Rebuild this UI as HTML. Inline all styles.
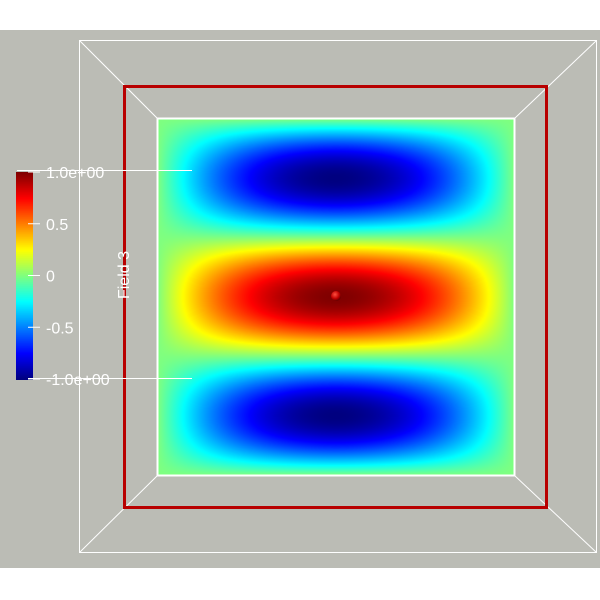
<!DOCTYPE html>
<html><head><meta charset="utf-8"><style>
html,body{margin:0;padding:0;background:#fff;}
#root{position:relative;width:600px;height:600px;overflow:hidden;background:#fff;font-family:"Liberation Sans",sans-serif;}
#bg{position:absolute;left:0;top:30px;width:600px;height:538px;background:#bbbcb5;}
svg{position:absolute;left:0;top:0;}
</style></head><body>
<div id="root">
<div id="bg"></div>
<canvas id="field" width="356" height="356" style="position:absolute;left:158px;top:119px;width:356px;height:356px"></canvas>
<canvas id="cbar" width="17" height="208" style="position:absolute;left:16px;top:172px"></canvas>
<svg width="600" height="600" id="ov">
 <g stroke="#fff" stroke-width="1" fill="none">
  <rect x="79.5" y="40.5" width="517" height="512"/>
  <rect x="157.5" y="118.5" width="357" height="357" stroke-width="2"/>
  <line x1="79.5" y1="40.5" x2="157.5" y2="118.5"/>
  <line x1="596.5" y1="40.5" x2="514.5" y2="118.5"/>
  <line x1="79.5" y1="552.5" x2="157.5" y2="475.5"/>
  <line x1="596.5" y1="552.5" x2="514.5" y2="475.5"/>
 </g>
 <rect x="124.5" y="86.5" width="422" height="421" fill="none" stroke="#b80000" stroke-width="3"/>
 <g stroke="#fff" stroke-width="1">
  <line x1="17" y1="170.5" x2="192" y2="170.5"/>
  <line x1="28" y1="378.5" x2="192" y2="378.5"/>
 </g>
 <g id="ticks"></g>
 <text transform="translate(129,275) rotate(-90)" text-anchor="middle" fill="#fff" font-size="16" font-family="Liberation Sans, sans-serif">Field 3</text>
 <defs><radialGradient id="sg" cx="0.4" cy="0.35" r="0.7"><stop offset="0" stop-color="#ff5040"/><stop offset="0.6" stop-color="#c00000"/><stop offset="1" stop-color="#500000"/></radialGradient></defs>
 <circle cx="336" cy="296" r="5" fill="url(#sg)"/>
</svg>
</div>
<script>
const tickValues=[1,0.5,0,-0.5,-1];
const tickLabels=["1.0e+00","0.5","0","-0.5","-1.0e+00"];
const rangeMin=-1, rangeMax=1;
function jet(v){
  let t=(v+1)/2; t=Math.max(0,Math.min(1,t));
  const r=Math.max(0,Math.min(1,1.5-Math.abs(4*t-3)));
  const g=Math.max(0,Math.min(1,1.5-Math.abs(4*t-2)));
  const b=Math.max(0,Math.min(1,1.5-Math.abs(4*t-1)));
  return [r*255,g*255,b*255];
}
const fc=document.getElementById('field').getContext('2d');
const N=356, img=fc.createImageData(N,N);
for(let j=0;j<N;j++){for(let i=0;i<N;i++){
  const tx=(i+0.5)/N, ty=(j+0.5)/N;
  const d=Math.min(tx,1-tx)*2;
  const fx=1-Math.pow(1-d,1.9);
  const v=-Math.sin(3*Math.PI*ty)*fx;
  const c=jet(v), k=(j*N+i)*4;
  img.data[k]=c[0];img.data[k+1]=c[1];img.data[k+2]=c[2];img.data[k+3]=255;
}}
fc.putImageData(img,0,0);
const cc=document.getElementById('cbar').getContext('2d');
for(let y=0;y<208;y++){const v=rangeMax-(y/207)*(rangeMax-rangeMin);const c=jet(v);
 cc.fillStyle=`rgb(${c[0]|0},${c[1]|0},${c[2]|0})`;cc.fillRect(0,y,17,1);}
const ns='http://www.w3.org/2000/svg', tg=document.getElementById('ticks');
function yOf(v){return 172+(rangeMax-v)/(rangeMax-rangeMin)*207;}
tickValues.forEach((v,i)=>{
  const y=yOf(v);
  const l=document.createElementNS(ns,'line');
  
  
  l.setAttribute('x1',28);l.setAttribute('x2',40);l.setAttribute('y1',y);l.setAttribute('y2',y);
  l.setAttribute('stroke','#fff');tg.appendChild(l);
  const t=document.createElementNS(ns,'text');
  
  
  t.setAttribute('x',46);t.setAttribute('y',y+6);t.setAttribute('fill','#fff');
  t.setAttribute('font-size','16');t.setAttribute('font-family','Liberation Sans, sans-serif');
  t.textContent=tickLabels[i];tg.appendChild(t);
});
</script>
</body></html>
